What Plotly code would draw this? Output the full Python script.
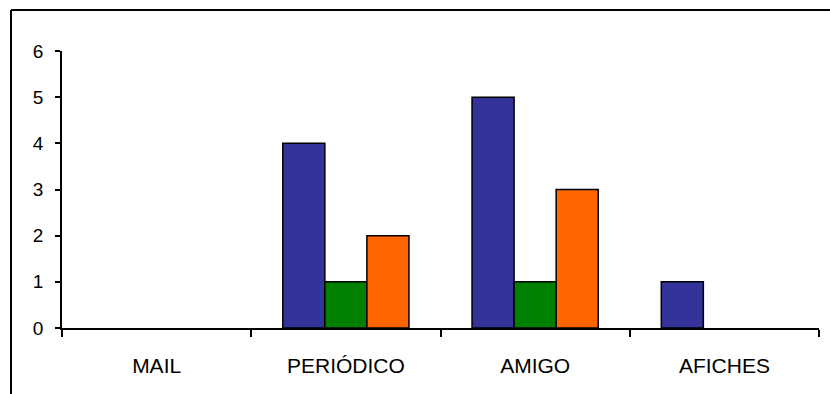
import plotly.graph_objects as go

categories = ["MAIL", "PERIÓDICO", "AMIGO", "AFICHES"]
serie_azul = [0, 4, 5, 1]
serie_verde = [0, 1, 1, 0]
serie_naranja = [0, 2, 3, 0]
y_ticks = [0, 1, 2, 3, 4, 5, 6]

fig = go.Figure()
for vals, col in [(serie_azul, "#333399"), (serie_verde, "#008000"), (serie_naranja, "#FF6600")]:
    fig.add_trace(go.Bar(x=categories, y=vals,
                         marker=dict(color=col, line=dict(color="black", width=[1.5 if v else 0 for v in vals])),
                         showlegend=False, hoverinfo="x+y"))

L, R, T, B = 62, 11, 51, 66
W, H = 830, 394
pw, ph = W - L - R, H - T - B
fx = (11 - L) / pw
fy = 1 + (T - 10) / ph

fig.update_layout(
    width=W, height=H, barmode="group", bargap=1/3, bargroupgap=0,
    margin=dict(l=L, r=R, t=T, b=B, autoexpand=False),
    plot_bgcolor="white", paper_bgcolor="white",
    font=dict(family="Liberation Sans, Arial, sans-serif", size=19, color="black"),
    xaxis=dict(showline=True, linecolor="black", linewidth=1.5, ticks="outside", tickson="boundaries",
               ticklen=7, tickcolor="black", tickwidth=1.5, showgrid=False, fixedrange=True,
               ticklabelstandoff=18, tickfont=dict(size=21)),
    yaxis=dict(range=[0, 6], tickvals=y_ticks, showline=True, linecolor="black", linewidth=1.5,
               ticks="outside", ticklen=5, tickcolor="black", tickwidth=1.5, showgrid=False, zeroline=False,
               fixedrange=True, ticklabelstandoff=8, tickfont=dict(size=19)),
    shapes=[
        dict(type="line", xref="paper", yref="paper", x0=fx, x1=1.2, y0=fy, y1=fy,
             line=dict(color="black", width=2)),
        dict(type="line", xref="paper", yref="paper", x0=fx, x1=fx, y0=fy, y1=-0.5,
             line=dict(color="black", width=2)),
    ],
)
fig.write_html("out.html", config={"displayModeBar": False},
               post_script="document.body.style.margin='0';document.body.style.overflow='hidden';")
